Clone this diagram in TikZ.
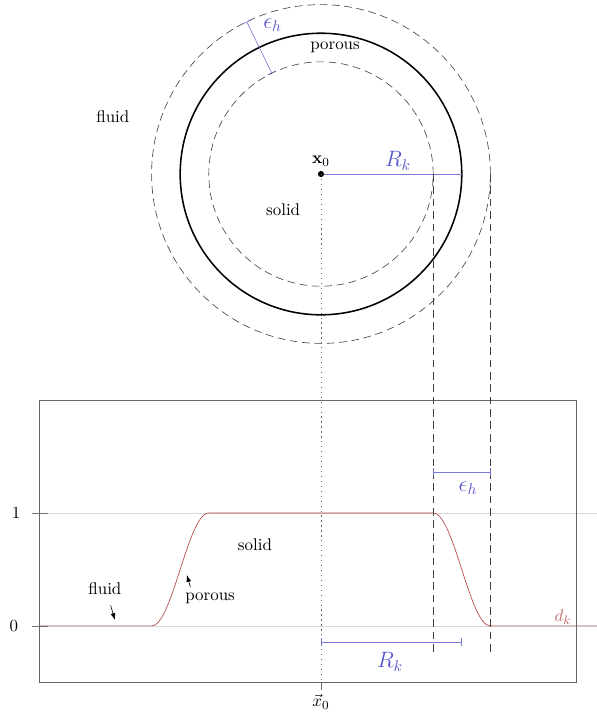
\documentclass[11pt,tikz,border=0pt]{standalone}
\usepackage{amsmath}
\usepackage{amssymb}
\usepackage{xcolor}
\usepackage{tikz}
\usetikzlibrary{arrows.meta,calc}
\definecolor{massblau}{RGB}{85,85,205}
\definecolor{kurvenrot}{RGB}{175,60,60}
\newcommand{\Rk}{3.2}
\newcommand{\Eh}{1.3}
\newcommand{\Nulllinie}{-10.27}
\newcommand{\Einslinie}{-7.705}

\begin{document}
\begin{tikzpicture}[>=Latex,
  mass/.style={draw=massblau!80,{Bar[width=2mm]}-{Bar[width=2mm]}},
  hilfslinie/.style={black!75,dash pattern=on 5pt off 3pt},
  gitter/.style={black!15,thin},
  pfeil/.style={->,>={Latex[length=1.6mm,width=1.1mm]}}]
  \useasboundingbox (-7.295,3.955) rectangle (6.273,-12.295);
  \draw[hilfslinie] (0,0) circle ({\Rk-\Eh/2});
  \draw[hilfslinie] (0,0) circle ({\Rk+\Eh/2});
  \draw[line width=1pt] (0,0) circle (\Rk);
  \coordinate (m) at (0,0);
  \coordinate (rand) at (\Rk,0);
  \coordinate (innen) at ({\Rk-\Eh/2},0);
  \coordinate (aussen) at ({\Rk+\Eh/2},0);
  \coordinate (ehinnen) at (116:{\Rk-\Eh/2});
  \coordinate (ehaussen) at (116:{\Rk+\Eh/2});
  \draw[massblau!80] (m) -- (rand);
  \draw[mass] (ehinnen) -- (ehaussen);
  \fill (m) circle (0.07);
  \node[above=1pt] (xfett) at (m) {$\mathbf{x}_0$};
  \node[massblau,font=\Large] (rkoben) at (1.75,0.3) {$R_k$};
  \node[massblau,font=\Large] (ehoben) at (-1.1,3.38) {$\epsilon_h$};
  \node (porousoben) at (0.32,2.89) {porous};
  \node (solidoben) at (-0.86,-0.82) {solid};
  \node (fluidoben) at (-4.73,1.3) {fluid};

  \draw[gitter] (-6.57,\Einslinie) -- (6.273,\Einslinie);
  \draw[gitter] (-6.57,\Nulllinie) -- (6.273,\Nulllinie);
  \draw[black!60] (-6.41,-5.136) rectangle (5.795,-11.545);
  \draw[black!55] (-6.57,\Einslinie) -- (-6.2,\Einslinie);
  \draw[black!55] (-6.57,\Nulllinie) -- (-6.2,\Nulllinie);
  \node (eins) at (-6.93,\Einslinie) {1};
  \node (null) at (-6.98,\Nulllinie) {0};
  \draw[kurvenrot] (-6.41,\Nulllinie) -- (-3.85,\Nulllinie)
    -- plot[domain=-3.85:-2.55,samples=40] (\x,{\Nulllinie+2.565*(1-cos(180*(\x+3.85)/1.3))/2})
    -- (2.55,\Einslinie)
    -- plot[domain=2.55:3.85,samples=40] (\x,{\Nulllinie+2.565*(1+cos(180*(\x-2.55)/1.3))/2})
    -- (6.273,\Nulllinie);
  \node[kurvenrot!75] (dk) at (5.5,-10.07) {$d_k$};

  \coordinate (xunten) at (0,-11.545);
  \coordinate (xtick) at (0,-11.73);
  \draw[black!60,dash pattern=on 0.8pt off 2.4pt] (m) -- (xunten);
  \draw[black!60] (xunten) -- (xtick);
  \node[below=-1pt] (xvec) at (xtick) {$\vec{x}_0$};
  \coordinate (innenunten) at ({\Rk-\Eh/2},-10.886);
  \coordinate (aussenunten) at ({\Rk+\Eh/2},-10.886);
  \draw[hilfslinie] (innen) -- (innenunten);
  \draw[hilfslinie] (aussen) -- (aussenunten);

  \draw[mass] (0,-10.636) -- (\Rk,-10.636);
  \node[massblau,font=\Large] (rkunten) at (1.57,-11.09) {$R_k$};
  \draw[mass] ({\Rk-\Eh/2},-6.77) -- ({\Rk+\Eh/2},-6.77);
  \node[massblau,font=\Large] (ehunten) at (3.34,-7.14) {$\epsilon_h$};

  \node (solidunten) at (-1.5,-8.43) {solid};
  \node (fluidunten) at (-4.91,-9.43) {fluid};
  \node (porousunten) at (-2.52,-9.64) {porous};
  \coordinate (fluidspitze) at (-4.68,-10.14);
  \coordinate (porousspitze) at (-3.05,-9.11);
  \draw[pfeil,shorten <=3pt] (fluidunten.-70) -- (fluidspitze);
  \draw[pfeil] (porousunten.150) -- (porousspitze);
\end{tikzpicture}
\end{document}
